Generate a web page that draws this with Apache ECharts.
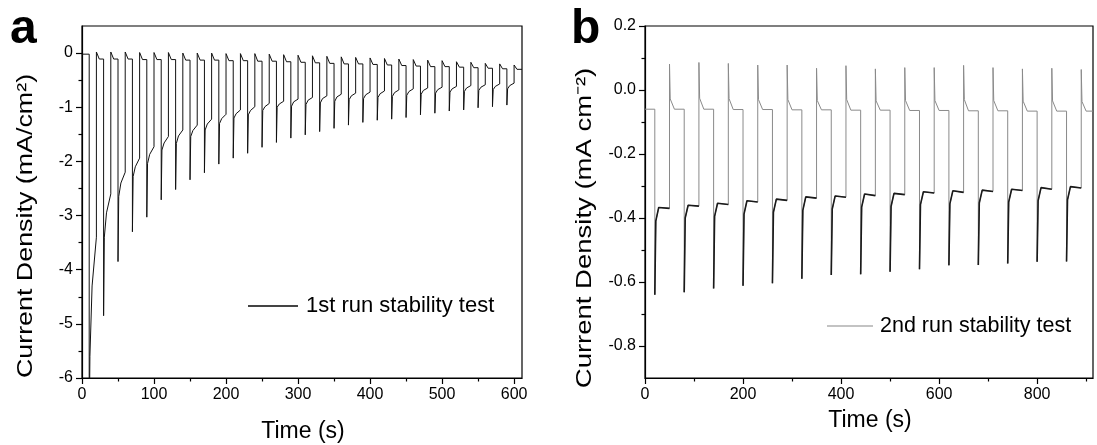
<!DOCTYPE html>
<html>
<head>
<meta charset="utf-8">
<script src="https://cdn.jsdelivr.net/npm/echarts@6/dist/echarts.min.js"></script>
<style>
  html, body { margin: 0; background: #fff; }
  #chart { width: 1097px; height: 445px; }
</style>
</head>
<body>
<div id="chart"></div>
<script>
// ---- panel a: 1st run, light on 10 s / off 10 s ----
var onA = [10, 30, 50, 70, 90, 110, 130, 150, 170, 190, 210, 230, 250, 270, 290,
           310, 330, 350, 370, 390, 410, 430, 450, 470, 490, 510, 530, 550, 570, 590];
var startA = -0.02;
var spikeA = [-7.0, -4.85, -3.85, -3.30, -3.03, -2.71, -2.52, -2.34, -2.21, -2.05, -1.94, -1.85, -1.74, -1.65, -1.57,
              -1.51, -1.45, -1.39, -1.33, -1.28, -1.24, -1.22, -1.19, -1.14, -1.11, -1.07, -1.05, -1.01, -0.99, -0.96];
var relaxA = [-5.6, -3.40, -2.65, -2.28, -2.04, -1.79, -1.67, -1.54, -1.42, -1.30, -1.20, -1.14, -1.06, -1.00, -0.98,
              -0.95, -0.92, -0.89, -0.86, -0.84, -0.82, -0.80, -0.78, -0.76, -0.74, -0.72, -0.71, -0.69, -0.675, -0.66];
var kneeA = [-4.30, -2.95, -2.40, -2.10, -1.87, -1.66, -1.53, -1.43, -1.31, -1.21, -1.12, -1.06, -0.99, -0.94, -0.90,
             -0.87, -0.84, -0.81, -0.79, -0.77, -0.75, -0.73, -0.71, -0.69, -0.675, -0.66, -0.645, -0.63, -0.615, -0.60];
var endA = [-3.40, -2.60, -2.20, -1.94, -1.73, -1.54, -1.42, -1.33, -1.22, -1.13, -1.05, -0.99, -0.93, -0.89, -0.85,
            -0.82, -0.79, -0.76, -0.74, -0.72, -0.70, -0.68, -0.66, -0.645, -0.63, -0.615, -0.60, -0.585, -0.57, -0.555];
var topA = [0.02, 0.02, 0.02, 0.01, 0.01, 0.01, 0.0, 0.0, 0.0, -0.01, -0.01, -0.01, -0.02, -0.03, -0.04,
            -0.05, -0.06, -0.07, -0.08, -0.09, -0.10, -0.11, -0.12, -0.13, -0.14, -0.16, -0.17, -0.19, -0.20, -0.22];
var darkA = [-0.11, -0.11, -0.11, -0.12, -0.12, -0.12, -0.13, -0.13, -0.13, -0.14, -0.14, -0.15, -0.15, -0.16, -0.17,
             -0.18, -0.19, -0.20, -0.20, -0.21, -0.22, -0.23, -0.24, -0.25, -0.25, -0.26, -0.27, -0.28, -0.29, -0.30];
var xMajorA = [0, 100, 200, 300, 400, 500, 600];
var xMinorA = [50, 150, 250, 350, 450, 550];
var yMajorA = [-6, -5, -4, -3, -2, -1, 0];
var yMinorA = [-5.5, -4.5, -3.5, -2.5, -1.5, -0.5];

// ---- panel b: 2nd run, light on 30 s / off 30 s ----
var onB = [20, 80, 140, 200, 260, 320, 380, 440, 500, 560, 620, 680, 740, 800, 860];
var startB = -0.06;
var spikeB = [-0.64, -0.632, -0.62, -0.612, -0.604, -0.59, -0.578, -0.576, -0.568, -0.56, -0.548, -0.547, -0.542, -0.537, -0.536];
var kneeB = [-0.41, -0.40, -0.395, -0.388, -0.382, -0.376, -0.372, -0.366, -0.364, -0.358, -0.356, -0.353, -0.35, -0.346, -0.343];
var plateauB = [-0.367, -0.36, -0.354, -0.346, -0.341, -0.334, -0.331, -0.325, -0.323, -0.318, -0.315, -0.313, -0.31, -0.305, -0.302];
var endB = [-0.37, -0.363, -0.358, -0.35, -0.345, -0.338, -0.335, -0.33, -0.327, -0.322, -0.32, -0.317, -0.314, -0.31, -0.306];
var topB = [0.081, 0.086, 0.083, 0.078, 0.078, 0.068, 0.076, 0.066, 0.07, 0.07, 0.077, 0.07, 0.066, 0.068, 0.064];
var darkKneeB = [-0.028, -0.026, -0.027, -0.03, -0.03, -0.033, -0.03, -0.034, -0.033, -0.033, -0.03, -0.033, -0.035, -0.034, -0.036];
var darkB = [-0.060, -0.060, -0.061, -0.061, -0.062, -0.062, -0.063, -0.063, -0.064, -0.064, -0.065, -0.065, -0.066, -0.066, -0.066];
var xMajorB = [0, 200, 400, 600, 800];
var xMinorB = [100, 300, 500, 700, 900];
var yMajorB = [-0.8, -0.6, -0.4, -0.2, 0, 0.2];
var yMinorB = [-0.7, -0.5, -0.3, -0.1, 0.1];

var FONT = 'Liberation Sans, Arial, sans-serif';

// build the traces from the read values
var lineA = [[0, startA], [onA[0], startA]];
for (var i = 0; i < onA.length; i++) {
    var t = onA[i];
    lineA.push([t, spikeA[i]], [t + 1, relaxA[i]], [t + 4, kneeA[i]], [t + 10, endA[i]],
               [t + 10, topA[i]], [t + 14, darkA[i]]);
    lineA.push([i + 1 < onA.length ? onA[i + 1] : 611, darkA[i]]);
}

var lineB = [[0, startB], [onB[0], startB]];
var plateauLineB = [];
for (var j = 0; j < onB.length; j++) {
    var s = onB[j];
    lineB.push([s, spikeB[j]], [s + 2, kneeB[j]], [s + 8, plateauB[j]], [s + 30, endB[j]],
               [s + 30, topB[j]], [s + 31.5, darkKneeB[j]], [s + 40, darkB[j]]);
    lineB.push([j + 1 < onB.length ? onB[j + 1] : 914, darkB[j]]);
    plateauLineB.push([s, spikeB[j]], [s + 2, kneeB[j]], [s + 8, plateauB[j]], [s + 30, endB[j]], [s + 30, '-']);
}

function mainX(grid, min, max, major) {
    return {
        gridIndex: grid, type: 'value', min: min, max: max, position: 'bottom',
        axisLine: { show: true, onZero: false, lineStyle: { color: '#000', width: 1.2 } },
        axisTick: { show: true, customValues: major, length: 6, lineStyle: { color: '#000', width: 1.2 } },
        axisLabel: { show: true, customValues: major, fontSize: 16, color: '#000', margin: 9, fontFamily: FONT },
        splitLine: { show: false }
    };
}
function minorX(grid, min, max, minor) {
    return {
        gridIndex: grid, type: 'value', min: min, max: max, position: 'bottom',
        axisLine: { show: false, onZero: false },
        axisTick: { show: true, customValues: minor, length: 3.5, lineStyle: { color: '#000', width: 1.2 } },
        axisLabel: { show: false },
        splitLine: { show: false }
    };
}
function mainY(grid, min, max, major, fmt) {
    return {
        gridIndex: grid, type: 'value', min: min, max: max, position: 'left',
        axisLine: { show: true, onZero: false, lineStyle: { color: '#000', width: 1.2 } },
        axisTick: { show: true, customValues: major, length: 6, lineStyle: { color: '#000', width: 1.2 } },
        axisLabel: { show: true, customValues: major, fontSize: 16, color: '#000', margin: 9,
                     fontFamily: FONT, formatter: fmt },
        splitLine: { show: false }
    };
}
function minorY(grid, min, max, minor) {
    return {
        gridIndex: grid, type: 'value', min: min, max: max, position: 'left',
        axisLine: { show: false, onZero: false },
        axisTick: { show: true, customValues: minor, length: 3.5, lineStyle: { color: '#000', width: 1.2 } },
        axisLabel: { show: false },
        splitLine: { show: false }
    };
}

var chart = echarts.init(document.getElementById('chart'));
chart.setOption({
    animation: false,
    backgroundColor: '#fff',
    grid: [
        { left: 82, top: 26, width: 440, height: 352, show: true, borderColor: '#000', borderWidth: 1.2 },
        { left: 645, top: 26, width: 448, height: 352, show: true, borderColor: '#000', borderWidth: 1.2 }
    ],
    xAxis: [
        mainX(0, 0, 611, xMajorA), minorX(0, 0, 611, xMinorA),
        mainX(1, 0, 914, xMajorB), minorX(1, 0, 914, xMinorB)
    ],
    yAxis: [
        mainY(0, -6, 0.5, yMajorA, function (v) { return String(Math.round(v)); }),
        minorY(0, -6, 0.5, yMinorA),
        mainY(1, -0.9, 0.2, yMajorB, function (v) { return v.toFixed(1); }),
        minorY(1, -0.9, 0.2, yMinorB)
    ],
    legend: [
        {
            data: ['1st run stability test'], left: 248, top: 295, padding: 0,
            icon: 'rect', itemWidth: 50, itemHeight: 2,
            selectedMode: false, itemStyle: { color: '#444' },
            textStyle: { fontSize: 22, color: '#000', fontFamily: FONT, padding: [0, 0, 0, 3] }
        },
        {
            data: ['2nd run stability test'], left: 827, top: 315, padding: 0,
            icon: 'rect', itemWidth: 46, itemHeight: 1,
            selectedMode: false, itemStyle: { color: '#888' },
            textStyle: { fontSize: 21.5, color: '#000', fontFamily: FONT, padding: [0, 0, 0, 2] }
        }
    ],
    graphic: [
        { type: 'text', x: 10, y: 30, style: { text: 'a', font: 'bold 48px ' + FONT, fill: '#000',
            textVerticalAlign: 'middle', verticalAlign: 'middle' } },
        { type: 'text', x: 571, y: 30, style: { text: 'b', font: 'bold 48px ' + FONT, fill: '#000',
            textVerticalAlign: 'middle', verticalAlign: 'middle' } },
        { type: 'text', x: 26, y: 226, rotation: Math.PI / 2, scaleX: 1.22,
          style: { text: 'Current Density (mA/cm²)', font: '22px ' + FONT, fill: '#000',
                   textAlign: 'center', textVerticalAlign: 'middle', verticalAlign: 'middle' } },
        { type: 'text', x: 585, y: 228, rotation: Math.PI / 2, scaleX: 1.25,
          style: { text: 'Current Density (mA cm⁻²)', font: '22px ' + FONT, fill: '#000',
                   textAlign: 'center', textVerticalAlign: 'middle', verticalAlign: 'middle' } },
        { type: 'text', x: 303, y: 432,
          style: { text: 'Time (s)', font: '23px ' + FONT, fill: '#000',
                   textAlign: 'center', textVerticalAlign: 'middle', verticalAlign: 'middle' } },
        { type: 'text', x: 870, y: 421,
          style: { text: 'Time (s)', font: '23px ' + FONT, fill: '#000',
                   textAlign: 'center', textVerticalAlign: 'middle', verticalAlign: 'middle' } }
    ],
    series: [
        {
            type: 'line', name: '1st run stability test', xAxisIndex: 0, yAxisIndex: 0,
            data: lineA, symbol: 'none', clip: true,
            lineStyle: { color: '#111', width: 1 }, itemStyle: { color: '#111' }
        },
        {
            type: 'line', name: '2nd run stability test', xAxisIndex: 2, yAxisIndex: 2,
            data: lineB, symbol: 'none', clip: true,
            lineStyle: { color: '#8a8a8a', width: 1 }, itemStyle: { color: '#8a8a8a' }
        },
        {
            type: 'line', name: 'plateau', xAxisIndex: 2, yAxisIndex: 2,
            data: plateauLineB, symbol: 'none', clip: true, connectNulls: false,
            lineStyle: { color: '#1a1a1a', width: 1.6 }, itemStyle: { color: '#1a1a1a' }
        }
    ]
});
</script>
</body>
</html>
